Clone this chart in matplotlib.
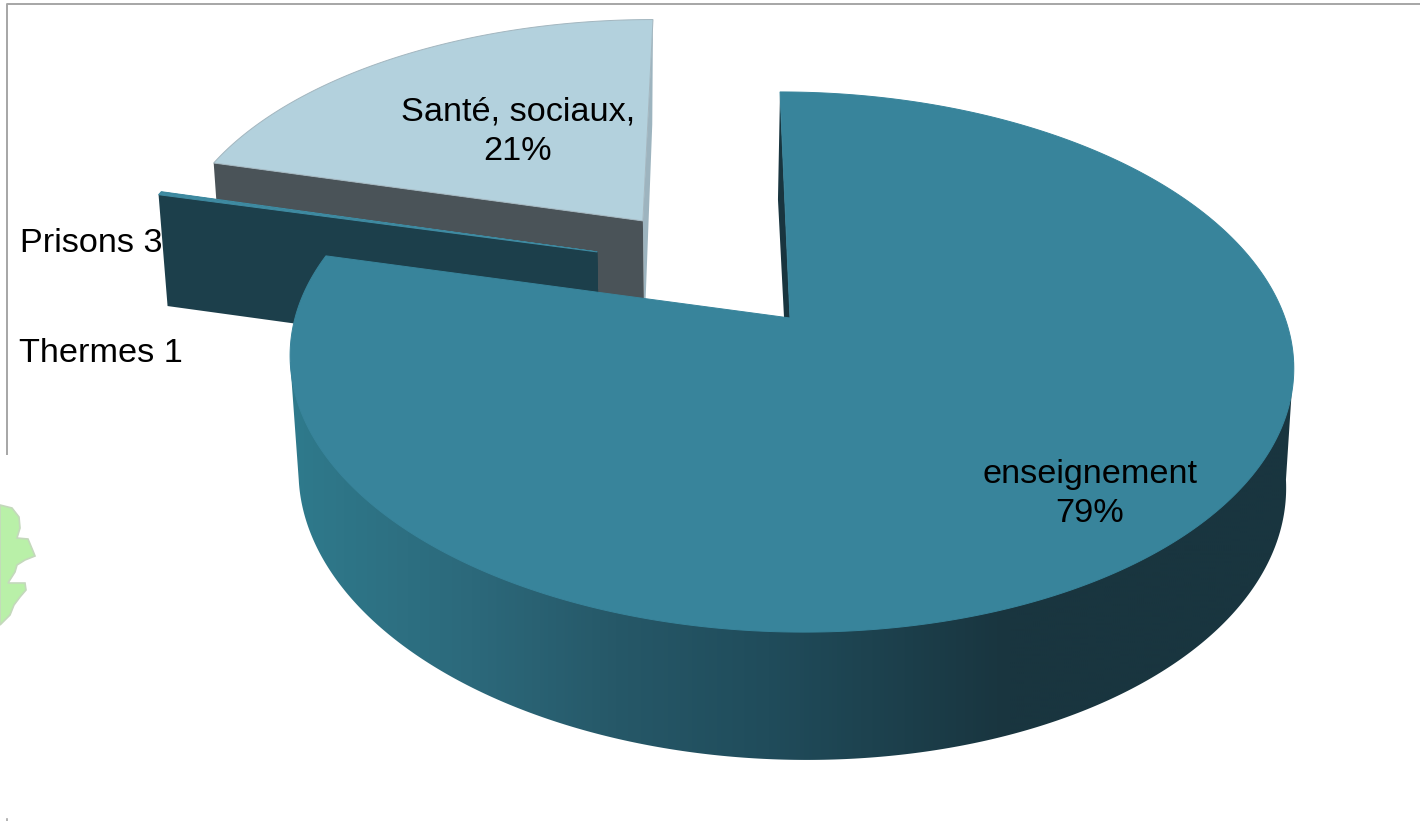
import numpy as np
import matplotlib
matplotlib.use('Agg')
import matplotlib.pyplot as plt
from matplotlib.colors import LinearSegmentedColormap
from matplotlib.patches import Polygon

plt.rcParams['font.family'] = ['Liberation Sans', 'DejaVu Sans']

# sectors, clockwise from the top of the pie
sectors = ['enseignement', 'Prisons', 'Thermes', 'Santé, sociaux']
values = [1418, 3, 1, 374]
labels = ['enseignement\n79%', 'Prisons 3', 'Thermes 1', 'Santé, sociaux,\n21%']

# how far each slice is pulled out, in pie radii (x, y in the pie plane)
explode = [(0.0, 0.0), (-0.40, 0.262), (-0.40, 0.262), (-0.307, 0.393)]
top_colors = ['#38849b', '#3f8ba2', '#3f8ba2', '#b3d1dd']
face_colors = ['#19353f', '#1c3f4b', '#1c3f4b', '#4a5358']
end_colors = ['#19353f', '#1c3f4b', '#1c3f4b', '#9db4bf']

wall_cmap = LinearSegmentedColormap.from_list(
    'wall', [(0.0, '#2f7b8d'), (0.186, '#2c697b'), (0.327, '#265868'),
             (0.477, '#204c5b'), (0.71, '#19353f'), (1.0, '#19353f')])

# perspective of the upper and lower plane of the pie, in pixels
KP = 0.163
TOP = dict(x0=790, y0=318, a=495, b=262.9, s=-11.6)
LOW = dict(x0=790, y0=434, a=487, b=272.8, s=-14.0)


def project(x, y, plane):
    w = 1 + KP * y
    px = plane['x0'] + (plane['a'] * x + plane['s'] * y) / w
    py = plane['y0'] - plane['b'] * y / w
    return np.column_stack([px, py])


def rim(a1, a2, off, plane):
    t = np.radians(np.linspace(a1, a2, max(2, int(a2 - a1) * 2)))
    return project(off[0] + np.sin(t), off[1] + np.cos(t), plane)


fig = plt.figure(figsize=(14.2, 8.21), dpi=100)
ax = fig.add_axes([0, 0, 1, 1])
ax.axis('off')

# frame left over from the slide
ax.plot([1420, 7, 7], [4, 4, 455], color='#a6a6a6', lw=1.4, solid_capstyle='butt')
ax.plot([6.5, 6.5], [819, 821], color='#a6a6a6', lw=1.2)

# piece of a map peeking out on the left
blob = [(0, 505), (12, 508), (19, 517), (20, 528), (17, 538), (28, 539), (33, 551),
        (35, 556), (25, 560), (17, 565), (15, 572), (8, 583), (25, 583), (26, 590),
        (20, 597), (14, 605), (10, 615), (0, 625)]
ax.add_patch(Polygon(blob, closed=True, facecolor='#b9f0a8', edgecolor='#c4d8bc', lw=1.2))

angles = np.cumsum([0] + values) / sum(values) * 360

# where the rim turns away from the viewer, left and right
side = np.degrees(np.arccos(-KP))

# back slices first, the big one goes on top of them
for i in [3, 2, 1, 0]:
    a1, a2 = angles[i], angles[i + 1]
    off = explode[i]
    apex_top = project(np.array([off[0]]), np.array([off[1]]), TOP)
    apex_low = project(np.array([off[0]]), np.array([off[1]]), LOW)
    top_rim = rim(a1, a2, off, TOP)
    low_rim = rim(a1, a2, off, LOW)

    # cut faces of the slice
    if i == 0:
        ax.add_patch(Polygon(np.vstack([apex_top, top_rim[0], low_rim[0], apex_low]),
                             facecolor=end_colors[i], edgecolor='none'))
        # outer wall, gradient along x clipped to the front of the rim
        front_low = rim(side, 360 - side, off, LOW)
        front_top = rim(side, 360 - side, off, TOP)
        band = Polygon(np.vstack([front_low, front_top[-1], front_top[0]]),
                       facecolor='none', edgecolor='none')
        ax.add_patch(band)
        grad = np.linspace(0, 1, 512).reshape(1, -1)
        im = ax.imshow(grad, cmap=wall_cmap, extent=(280, 1305, 800, 300), aspect='auto',
                       vmin=0, vmax=1, zorder=1)
        im.set_clip_path(band)
    else:
        ax.add_patch(Polygon(np.vstack([apex_top, top_rim[-1], low_rim[-1], apex_low]),
                             facecolor=end_colors[i], edgecolor='none'))
        ax.add_patch(Polygon(np.vstack([apex_top, top_rim[0], low_rim[0], apex_low]),
                             facecolor=face_colors[i], edgecolor='none'))

    edge = '#a3b6bf' if i == 3 else top_colors[i]
    ax.add_patch(Polygon(np.vstack([apex_top, top_rim]), facecolor=top_colors[i],
                         edgecolor=edge, lw=0.7, zorder=2 if i == 0 else 1))

ax.set_xlim(0, 1420)
ax.set_ylim(821, 0)

fs = 24.7
ax.text(1090, 494, labels[0], ha='center', va='center', fontsize=fs, color='black', linespacing=1.37, zorder=3)
ax.text(20, 243, labels[1], ha='left', va='center', fontsize=fs, color='black', zorder=3)
ax.text(19, 353, labels[2], ha='left', va='center', fontsize=fs, color='black', zorder=3)
ax.text(518, 132, labels[3], ha='center', va='center', fontsize=fs, color='black', linespacing=1.37, zorder=3)

fig.savefig('out.png', dpi=100)
